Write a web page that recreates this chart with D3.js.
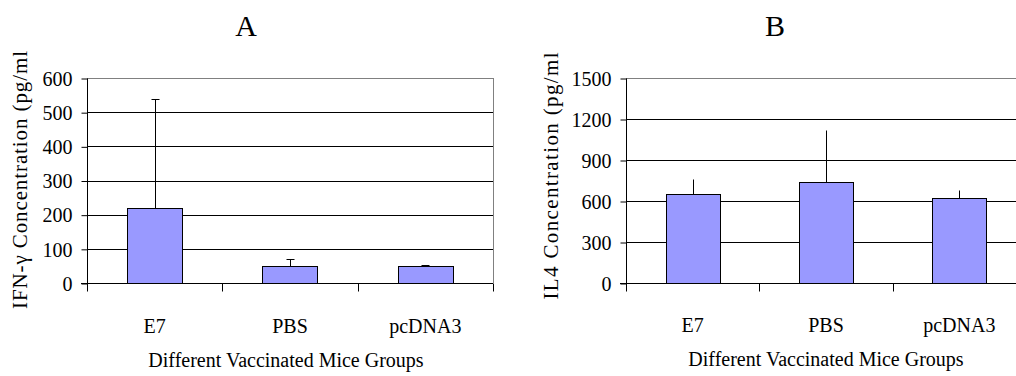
<!DOCTYPE html>
<html><head><meta charset="utf-8">
<script src="https://cdn.jsdelivr.net/npm/d3@7"></script>
<style>
html,body{margin:0;padding:0;background:#fff;}
svg{display:block;}
svg text{font-family:"Liberation Serif","Times New Roman",serif !important;fill:#000;}
</style></head>
<body>
<svg id="c" width="1016" height="376"></svg>
<script>
const categories = ["E7", "PBS", "pcDNA3"];
const ifnValues = [220, 50, 50];
const ifnErrors = [540, 71, 54];
const ifnTicks = [0, 100, 200, 300, 400, 500, 600];
const il4Values = [650, 740, 625];
const il4Errors = [760, 1122, 680];
const il4Ticks = [0, 300, 600, 900, 1200, 1500];
const xTitle = "Different Vaccinated Mice Groups";

const SERIF = "'Liberation Serif', 'Times New Roman', serif";
const FS = 22;          // requested font size
const SC = 20 / 22;     // scale to effective ~20px
const svg = d3.select("#c");

function place(sel, fx, fy, s) {
  sel.each(function() {
    const t = d3.select(this);
    const x0 = +(t.attr("x") || 0), y0 = +(t.attr("y") || 0);
    t.attr("transform", `translate(${fx(x0)},${fy(y0)}) scale(${s})`).attr("x", 0).attr("y", 0);
  });
}

function panel(cfg) {
  const g = svg.append("g");
  const x = d3.scaleBand().domain(categories).range([cfg.left, cfg.right]).padding(0);
  const y = d3.scaleLinear().domain([0, cfg.ticks[cfg.ticks.length-1]]).range([cfg.bottom, cfg.top]);
  const r = v => Math.round(v) + 0.5;

  g.selectAll("line.grid").data(cfg.ticks.slice(1, -1)).join("line")
    .attr("x1", cfg.left).attr("x2", cfg.right)
    .attr("y1", d => r(y(d))).attr("y2", d => r(y(d)))
    .attr("stroke", "#000").attr("stroke-width", 1);
  g.append("line").attr("x1", cfg.left).attr("x2", cfg.right)
    .attr("y1", r(cfg.top)).attr("y2", r(cfg.top)).attr("stroke", "#808080");
  g.append("line").attr("x1", r(cfg.right)).attr("x2", r(cfg.right))
    .attr("y1", cfg.top).attr("y2", cfg.bottom).attr("stroke", "#808080");

  const bw = x.bandwidth() * cfg.barFrac;
  g.selectAll("rect.bar").data(cfg.values).join("rect")
    .attr("x", (d, i) => Math.round(x(categories[i]) + x.bandwidth()/2 - bw/2) + 0.5)
    .attr("width", Math.round(bw))
    .attr("y", d => Math.round(y(d)) + 0.5)
    .attr("height", d => Math.round(y(0)) - Math.round(y(d)))
    .attr("fill", "#9999FF").attr("stroke", "#000").attr("stroke-width", 1);

  cfg.errors.forEach((e, i) => {
    const cx = r(x(categories[i]) + x.bandwidth()/2);
    g.append("line").attr("x1", cx).attr("x2", cx)
      .attr("y1", Math.round(y(cfg.values[i]))).attr("y2", r(y(e)))
      .attr("stroke", "#000");
    if (cfg.caps) {
      g.append("line").attr("x1", cx - 4).attr("x2", cx + 4)
        .attr("y1", r(y(e))).attr("y2", r(y(e))).attr("stroke", "#000");
    }
  });

  // y axis
  const ya = d3.axisLeft(y).tickValues(cfg.ticks).tickSize(6).tickPadding(9).tickFormat(d3.format("d"));
  const yg = g.append("g").attr("transform", `translate(${r(cfg.left)},0.5)`).call(ya);
  yg.attr("font-family", null).attr("font-size", null);
  yg.select(".domain").remove();
  yg.append("line").attr("x1", 0).attr("x2", 0).attr("y1", cfg.top).attr("y2", cfg.bottom + 0.5).attr("stroke", "#000");
  yg.selectAll(".tick line").attr("stroke", "#000");
  const yt = yg.selectAll(".tick text").style("font-family", SERIF).style("font-size", FS + "px").attr("dy", "0.34em");
  place(yt, v => v, v => v, SC);

  // x axis
  const xa = d3.axisBottom(x).tickSize(0).tickPadding(0);
  const xg = g.append("g").attr("transform", `translate(0,${r(cfg.bottom)})`).call(xa);
  xg.attr("font-family", null).attr("font-size", null);
  xg.select(".domain").remove();
  xg.append("line").attr("x1", cfg.left - 6).attr("x2", cfg.right).attr("y1", 0).attr("y2", 0).attr("stroke", "#000");
  const bounds = categories.map(c => x(c)).concat([cfg.right]);
  xg.selectAll("line.xt").data(bounds).join("line")
    .attr("x1", d => r(d)).attr("x2", d => r(d)).attr("y1", 0).attr("y2", 8).attr("stroke", "#000");
  const xt = xg.selectAll(".tick text").style("font-family", SERIF).style("font-size", FS + "px")
    .attr("dy", 0).attr("y", cfg.catBase - cfg.bottom);
  place(xt, v => v, v => v, SC);

  g.append("text").attr("transform", `translate(${cfg.xTitleX},${cfg.xTitleY}) scale(${SC})`)
    .attr("text-anchor", "middle")
    .style("font-family", SERIF).style("font-size", FS + "px").text(xTitle);

  g.append("text")
    .attr("transform", `translate(${cfg.yTitleX},${cfg.yTitleY}) rotate(-90)`)
    .attr("text-anchor", "middle").style("font-family", SERIF).style("font-size", "21px")
    .attr("textLength", cfg.yTitleLen).attr("lengthAdjust", "spacing")
    .text(cfg.yTitle);

  g.append("text").attr("x", cfg.titleX).attr("y", 36).attr("text-anchor", "middle")
    .style("font-family", SERIF).style("font-size", "30px").text(cfg.title);
}

panel({
  left: 87, right: 493, top: 78, bottom: 283,
  ticks: ifnTicks, values: ifnValues, errors: ifnErrors, caps: true, barFrac: 0.41,
  catBase: 332, xTitleX: 286, xTitleY: 367,
  yTitle: "IFN-\u03b3 Concentration (pg/ml", yTitleX: 27, yTitleY: 180, yTitleLen: 258,
  title: "A", titleX: 246
});
panel({
  left: 626, right: 1026, top: 78, bottom: 283,
  ticks: il4Ticks, values: il4Values, errors: il4Errors, caps: false, barFrac: 0.405,
  catBase: 331, xTitleX: 826, xTitleY: 366,
  yTitle: "IL4 Concentration (pg/ml", yTitleX: 558, yTitleY: 176, yTitleLen: 247,
  title: "B", titleX: 775
});
</script>
</body></html>
